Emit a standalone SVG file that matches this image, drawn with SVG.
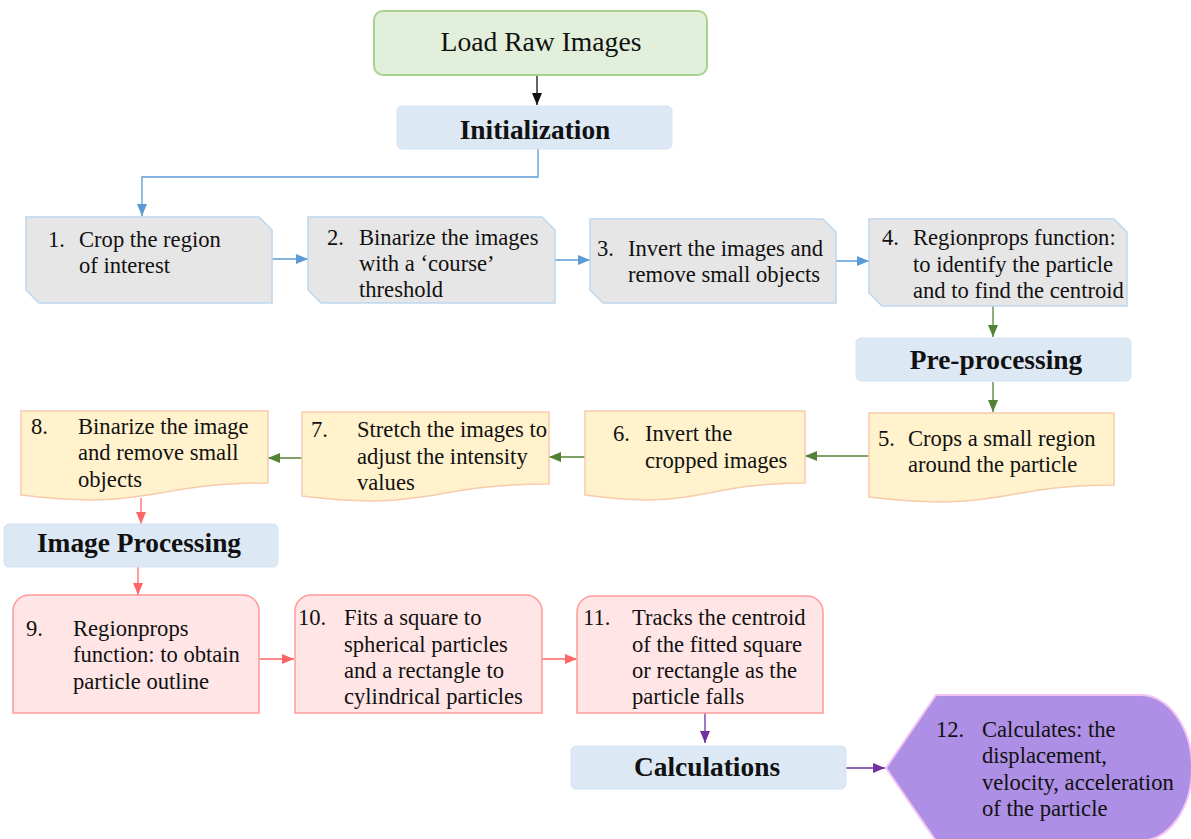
<svg xmlns="http://www.w3.org/2000/svg" width="1191" height="839" viewBox="0 0 1191 839">
<defs>
<style>
text{font-family:"Liberation Serif","Times New Roman",serif;font-size:22.6px;fill:#111}
.t{font-size:27.6px}
.h{font-size:27.4px;font-weight:bold;text-anchor:middle}
.lbl{fill:#dde8f5;stroke:#d6e3f2;stroke-width:1}
.gray{fill:#e7e6e6;stroke:#bdd7ee;stroke-width:1.5}
.doc{fill:#fff2cc;stroke:#f8cbad;stroke-width:1.5}
.red{fill:#ffe5e5;stroke:#ff9999;stroke-width:1.5}
.c{fill:none;stroke-width:1.3}
</style>
<marker id="aK" markerUnits="userSpaceOnUse" markerWidth="12" markerHeight="10" refX="12" refY="5" orient="auto"><path d="M0,0L12,5L0,10z" fill="#111"/></marker>
<marker id="aB" markerUnits="userSpaceOnUse" markerWidth="12" markerHeight="10" refX="12" refY="5" orient="auto"><path d="M0,0L12,5L0,10z" fill="#5b9bd5"/></marker>
<marker id="aG" markerUnits="userSpaceOnUse" markerWidth="12" markerHeight="10" refX="12" refY="5" orient="auto"><path d="M0,0L12,5L0,10z" fill="#548235"/></marker>
<marker id="aR" markerUnits="userSpaceOnUse" markerWidth="12" markerHeight="10" refX="12" refY="5" orient="auto"><path d="M0,0L12,5L0,10z" fill="#ff6666"/></marker>
<marker id="aP" markerUnits="userSpaceOnUse" markerWidth="12" markerHeight="10" refX="12" refY="5" orient="auto"><path d="M0,0L12,5L0,10z" fill="#7030a0"/></marker>
</defs>
<rect width="1191" height="839" fill="#fff"/>

<g id="connectors">
<path class="c" d="M537,75V105" stroke="#111" marker-end="url(#aK)"/>
<path class="c" d="M538,149V177H142V216" stroke="#5b9bd5" marker-end="url(#aB)"/>
<path class="c" d="M272,259H308" stroke="#5b9bd5" marker-end="url(#aB)"/>
<path class="c" d="M555,260H590" stroke="#5b9bd5" marker-end="url(#aB)"/>
<path class="c" d="M836,261H869" stroke="#5b9bd5" marker-end="url(#aB)"/>
<path class="c" d="M993,306V337" stroke="#548235" marker-end="url(#aG)"/>
<path class="c" d="M993,382V412" stroke="#548235" marker-end="url(#aG)"/>
<path class="c" d="M869,456H805" stroke="#548235" marker-end="url(#aG)"/>
<path class="c" d="M585,457H549" stroke="#548235" marker-end="url(#aG)"/>
<path class="c" d="M302,458H268" stroke="#548235" marker-end="url(#aG)"/>
<path class="c" d="M141,498V524" stroke="#ff6666" marker-end="url(#aR)"/>
<path class="c" d="M138,567V595" stroke="#ff6666" marker-end="url(#aR)"/>
<path class="c" d="M259,659H294" stroke="#ff6666" marker-end="url(#aR)"/>
<path class="c" d="M542,659H577" stroke="#ff6666" marker-end="url(#aR)"/>
<path class="c" d="M705,713V743" stroke="#7030a0" marker-end="url(#aP)"/>
<path class="c" d="M846,768H885" stroke="#7030a0" marker-end="url(#aP)"/>
</g>

<g id="load">
<rect x="374" y="11" width="333" height="64" rx="9" fill="#e2efda" stroke="#a9d18e" stroke-width="2"/>
<text class="t" x="541" y="51" text-anchor="middle">Load Raw Images</text>
</g>
<g id="initialization">
<rect class="lbl" x="397" y="106" width="275" height="43" rx="5"/>
<text class="h" x="535" y="139">Initialization</text>
</g>

<g id="n1">
<path class="gray" d="M26,217H259L272,230V303H39L26,290Z"/>
<text x="48" y="247">1.</text><text x="79" y="247">Crop the region</text>
<text x="79" y="273">of interest</text>
</g>
<g id="n2">
<path class="gray" d="M308,217H542L555,230V303H321L308,290Z"/>
<text x="327" y="245">2.</text><text x="359" y="245">Binarize the images</text>
<text x="359" y="271">with a ‘course’</text>
<text x="359" y="297">threshold</text>
</g>
<g id="n3">
<path class="gray" d="M590,219H823L836,232V303H603L590,290Z"/>
<text x="597" y="256">3.</text><text x="628" y="256">Invert the images and</text>
<text x="628" y="282">remove small objects</text>
</g>
<g id="n4">
<path class="gray" d="M869,219H1114L1127,232V306H882L869,293Z"/>
<text x="882" y="245">4.</text><text x="913" y="245">Regionprops function:</text>
<text x="913" y="272">to identify the particle</text>
<text x="913" y="298">and to find the centroid</text>
</g>
<g id="preprocessing">
<rect class="lbl" x="856" y="338" width="275" height="43" rx="5"/>
<text class="h" x="996" y="369">Pre-processing</text>
</g>

<g id="n5">
<path class="doc" d="M869,413H1114V485C1000,485 1000,513 869,497Z"/>
<text x="878" y="446">5.</text><text x="908" y="446">Crops a small region</text>
<text x="908" y="472">around the particle</text>
</g>
<g id="n6">
<path class="doc" d="M585,411H805V483C700,483 700,511 585,495Z"/>
<text x="613" y="441">6.</text><text x="645" y="441">Invert the</text>
<text x="645" y="468">cropped images</text>
</g>
<g id="n7">
<path class="doc" d="M302,412H549V484C430,484 430,512 302,496Z"/>
<text x="311" y="437">7.</text><text x="357" y="437">Stretch the images to</text>
<text x="357" y="464">adjust the intensity</text>
<text x="357" y="490">values</text>
</g>
<g id="n8">
<path class="doc" d="M21,411H268V483C150,483 150,511 21,495Z"/>
<text x="31" y="434">8.</text><text x="78" y="434">Binarize the image</text>
<text x="78" y="460">and remove small</text>
<text x="78" y="487">objects</text>
</g>
<g id="imageprocessing">
<rect class="lbl" x="4" y="524" width="274" height="43" rx="5"/>
<text class="h" x="139" y="552">Image Processing</text>
</g>

<g id="n9">
<path class="red" d="M13,713V611A16,16 0 0 1 29,595H243A16,16 0 0 1 259,611V713Z"/>
<text x="26" y="636">9.</text><text x="73" y="636">Regionprops</text>
<text x="73" y="662">function: to obtain</text>
<text x="73" y="689">particle outline</text>
</g>
<g id="n10">
<path class="red" d="M295,713V611A16,16 0 0 1 311,595H526A16,16 0 0 1 542,611V713Z"/>
<text x="298" y="625">10.</text><text x="344" y="625">Fits a square to</text>
<text x="344" y="652">spherical particles</text>
<text x="344" y="678">and a rectangle to</text>
<text x="344" y="704">cylindrical particles</text>
</g>
<g id="n11">
<path class="red" d="M577,713V612A16,16 0 0 1 593,596H807A16,16 0 0 1 823,612V713Z"/>
<text x="583" y="625">11.</text><text x="632" y="625">Tracks the centroid</text>
<text x="632" y="652">of the fitted square</text>
<text x="632" y="678">or rectangle as the</text>
<text x="632" y="704">particle falls</text>
</g>
<g id="calculations">
<rect class="lbl" x="571" y="746" width="275" height="43" rx="5"/>
<text class="h" x="707" y="776">Calculations</text>
</g>
<g id="n12">
<path d="M886,768L936,695H1140A52,73 0 0 1 1140,841H936Z" fill="#ae8fe6" stroke="#f3c4f3" stroke-width="2"/>
<text x="936" y="737">12.</text><text x="982" y="737">Calculates: the</text>
<text x="982" y="763">displacement,</text>
<text x="982" y="790">velocity, acceleration</text>
<text x="982" y="816">of the particle</text>
</g>
</svg>
